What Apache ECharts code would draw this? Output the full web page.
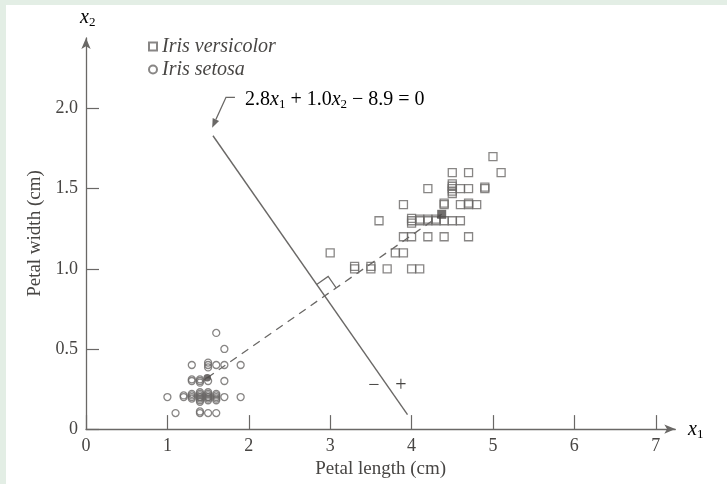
<!DOCTYPE html>
<html><head><meta charset="utf-8">
<script src="https://cdn.jsdelivr.net/npm/echarts@6/dist/echarts.min.js"></script>
<style>
html,body{margin:0;padding:0;background:#e3eee5;width:727px;height:484px;overflow:hidden;}
#main{position:absolute;left:6px;top:5px;width:721px;height:479px;background:#fff;}
</style></head><body><div id="main"></div>
<script>
// ---- data (petal length x1, petal width x2) ----
const xTicks = [0, 1, 2, 3, 4, 5, 6, 7];
const yTicks = [0, 0.5, 1.0, 1.5, 2.0];
const versicolor = [
  [3.3,1.0],[3.3,1.015],[3.5,1.0],[3.5,1.015],[3.7,1.0],[4.0,1.0],[4.1,1.0],
  [3.0,1.1],[3.8,1.1],[3.9,1.1],
  [3.9,1.2],[4.0,1.2],[4.2,1.2],[4.4,1.2],[4.7,1.2],
  [3.6,1.3],[4.0,1.3],[4.0,1.315],[4.0,1.285],[4.1,1.3],[4.1,1.31],[4.2,1.3],[4.2,1.31],[4.3,1.3],[4.3,1.31],[4.4,1.3],[4.5,1.3],[4.6,1.3],
  [3.9,1.4],[4.4,1.4],[4.4,1.41],[4.6,1.4],[4.7,1.4],[4.7,1.41],[4.8,1.4],
  [4.2,1.5],[4.5,1.5],[4.5,1.515],[4.5,1.53],[4.5,1.485],[4.5,1.47],[4.6,1.5],[4.7,1.5],[4.9,1.5],[4.9,1.51],
  [4.5,1.6],[4.7,1.6],[5.1,1.6],
  [5.0,1.7]
];
const setosa = [
  [1.6,0.6],
  [1.7,0.5],
  [1.3,0.4],[1.5,0.4],[1.5,0.415],[1.5,0.385],[1.6,0.4],[1.7,0.4],[1.9,0.4],
  [1.3,0.3],[1.3,0.31],[1.4,0.3],[1.4,0.31],[1.4,0.29],[1.5,0.3],[1.7,0.3],
  [1.0,0.2],[1.2,0.2],[1.2,0.21],
  [1.3,0.2],[1.3,0.21],[1.3,0.19],[1.3,0.22],
  [1.4,0.2],[1.4,0.21],[1.4,0.19],[1.4,0.22],[1.4,0.18],[1.4,0.23],[1.4,0.17],[1.4,0.2],
  [1.5,0.2],[1.5,0.21],[1.5,0.19],[1.5,0.22],[1.5,0.18],[1.5,0.23],[1.5,0.2],
  [1.6,0.2],[1.6,0.21],[1.6,0.19],[1.6,0.22],[1.6,0.18],
  [1.7,0.2],[1.9,0.2],
  [1.1,0.1],[1.4,0.1],[1.4,0.11],[1.5,0.1],[1.6,0.1]
];
const versicolorMean = [4.37, 1.34];
const setosaMean = [1.49, 0.32];
const boundary = [[1.56, 1.83], [3.95, 0.09]];
const leader = [[1.83, 2.07], [1.72, 2.07], [1.55, 1.88]];
const seriesNames = ['Iris versicolor', 'Iris setosa'];

const GRAY = '#6a6866';
const TXT = '#474543';
const SERIF = 'Liberation Serif';

const subRich = {
  n: { fontFamily: SERIF, fontSize: 20, lineHeight: 22, color: TXT },
  i: { fontFamily: SERIF, fontSize: 20, lineHeight: 22, color: TXT, fontStyle: 'italic' },
  s: { fontFamily: SERIF, fontSize: 13, lineHeight: 13, color: TXT, padding: [9, 0, 0, 0] }
};

const chart = echarts.init(document.getElementById('main'), null, { renderer: 'canvas' });
const option = {
  animation: false,
  backgroundColor: '#fff',
  grid: { left: 80, top: 33, width: 589.3, height: 392.7, containLabel: false },
  xAxis: {
    type: 'value', min: 0, max: 7.24,
    name: 'Petal length (cm)', nameLocation: 'middle', nameGap: 26,
    nameTextStyle: { fontFamily: SERIF, fontSize: 19, color: TXT },
    axisLine: { show: true, lineStyle: { color: GRAY, width: 1.3 }, symbol: ['none', 'arrow'], symbolSize: [7, 11] },
    axisTick: { show: true, inside: true, length: 14, lineStyle: { color: GRAY, width: 1.2 }, customValues: xTicks },
    axisLabel: { customValues: xTicks, fontFamily: SERIF, fontSize: 18, color: TXT, margin: 8 },
    splitLine: { show: false }
  },
  yAxis: {
    type: 'value', min: 0, max: 2.44,
    name: 'Petal width (cm)', nameLocation: 'middle', nameGap: 40,
    nameTextStyle: { fontFamily: SERIF, fontSize: 19, color: TXT },
    axisLine: { show: true, lineStyle: { color: GRAY, width: 1.3 }, symbol: ['none', 'arrow'], symbolSize: [7, 11] },
    axisTick: { show: true, inside: true, length: 13, lineStyle: { color: GRAY, width: 1.2 }, customValues: yTicks },
    axisLabel: { customValues: yTicks, fontFamily: SERIF, fontSize: 18, color: TXT, margin: 8,
      formatter: v => (v === 0 ? '0' : v.toFixed(1)) },
    splitLine: { show: false }
  },
  legend: {
    data: seriesNames, orient: 'vertical', left: 137, top: 26.5,
    itemWidth: 8, itemHeight: 8, itemGap: 3, selectedMode: false,
    textStyle: { fontFamily: SERIF, fontSize: 20, lineHeight: 20, fontStyle: 'italic', color: TXT }
  },
  series: [
    { name: seriesNames[0], type: 'scatter', data: versicolor, symbol: 'rect', symbolSize: 8, silent: true,
      itemStyle: { color: 'rgba(255,255,255,0)', borderColor: GRAY, borderWidth: 1.3 }, z: 3 },
    { name: seriesNames[1], type: 'scatter', data: setosa, symbol: 'circle', symbolSize: 7, silent: true,
      itemStyle: { color: 'rgba(255,255,255,0)', borderColor: GRAY, borderWidth: 1.3 }, z: 3 },
    { name: 'boundary', type: 'line', data: boundary, symbol: 'none', silent: true,
      lineStyle: { color: GRAY, width: 1.4 }, z: 2 },
    { name: 'means', type: 'line', data: [setosaMean, versicolorMean], symbol: 'none', silent: true,
      lineStyle: { color: GRAY, width: 1.3, type: [8, 6] }, z: 2 },
    { name: 'vmean', type: 'scatter', data: [versicolorMean], symbol: 'rect', symbolSize: 9, silent: true,
      itemStyle: { color: '#4d4a48' }, z: 4 },
    { name: 'smean', type: 'scatter', data: [setosaMean], symbol: 'circle', symbolSize: 7.5, silent: true,
      itemStyle: { color: '#4d4a48' }, z: 4 },
    { name: 'leader', type: 'custom', data: [0], silent: true, z: 2,
      renderItem: function (params, api) {
        const pts = leader.map(p => api.coord(p));
        const tip = pts[pts.length - 1], prev = pts[pts.length - 2];
        const dx = tip[0] - prev[0], dy = tip[1] - prev[1], L = Math.hypot(dx, dy);
        const ux = dx / L, uy = dy / L, len = 9, hw = 3.5;
        const base = [tip[0] - ux * len, tip[1] - uy * len];
        const linePts = pts.slice(0, -1).concat([base]);
        return { type: 'group', children: [
          { type: 'polyline', shape: { points: linePts }, style: { stroke: GRAY, lineWidth: 1.3, fill: null } },
          { type: 'polygon', shape: { points: [tip, [base[0] - uy * hw, base[1] + ux * hw], [base[0] + uy * hw, base[1] - ux * hw]] },
            style: { fill: GRAY } }
        ] };
      }
    },
    { name: 'rightAngle', type: 'custom', data: [0], silent: true, z: 2,
      renderItem: function (params, api) {
        const p1 = api.coord(boundary[0]), p2 = api.coord(boundary[1]);
        const q1 = api.coord(setosaMean), q2 = api.coord(versicolorMean);
        const d1 = [p2[0] - p1[0], p2[1] - p1[1]], d2 = [q2[0] - q1[0], q2[1] - q1[1]];
        const den = d1[0] * d2[1] - d1[1] * d2[0];
        const t = ((q1[0] - p1[0]) * d2[1] - (q1[1] - p1[1]) * d2[0]) / den;
        const I = [p1[0] + t * d1[0], p1[1] + t * d1[1]];
        const l1 = Math.hypot(d1[0], d1[1]), l2 = Math.hypot(d2[0], d2[1]);
        const u = [-d1[0] / l1, -d1[1] / l1], v = [d2[0] / l2, d2[1] / l2];
        const s = 14;
        const A = [I[0] + u[0] * s, I[1] + u[1] * s];
        const C = [I[0] + v[0] * s, I[1] + v[1] * s];
        const B = [A[0] + v[0] * s, A[1] + v[1] * s];
        return { type: 'polyline', shape: { points: [A, B, C] }, style: { stroke: GRAY, lineWidth: 1.2, fill: null } };
      }
    }
  ],
  graphic: [
    { type: 'text', left: 74, top: 2, style: { text: '{i|x}{s|2}', rich: subRich } },
    { type: 'text', left: 682, top: 414, style: { text: '{i|x}{s|1}', rich: subRich } },
    { type: 'text', left: 239, top: 84, style: { text: '{n|2.8}{i|x}{s|1}{n| + 1.0}{i|x}{s|2}{n| \u2212 8.9 = 0}', rich: subRich } },
    { type: 'text', x: 368, y: 381, style: { text: '\u2212', fontFamily: SERIF, fontSize: 20, fill: TXT, align: 'center', verticalAlign: 'middle' } },
    { type: 'text', x: 395, y: 381, style: { text: '+', fontFamily: SERIF, fontSize: 20, fill: TXT, align: 'center', verticalAlign: 'middle' } }
  ]
};
chart.setOption(option);
</script></body></html>
